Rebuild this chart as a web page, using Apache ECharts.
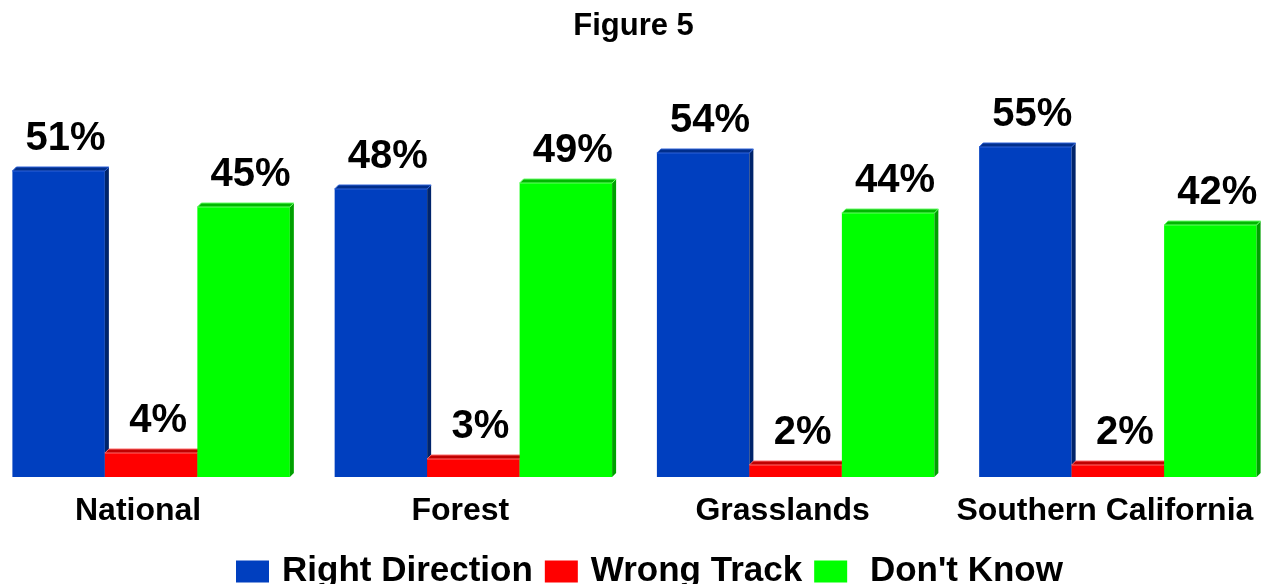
<!DOCTYPE html>
<html>
<head>
<meta charset="utf-8">
<script src="https://cdn.jsdelivr.net/npm/echarts@6/dist/echarts.min.js"></script>
<style>
  html, body { margin: 0; padding: 0; background: #fff; }
  #chart { width: 1267px; height: 584px; }
</style>
</head>
<body>
<div id="chart"></div>
<script>
// data
var categories = ['National', 'Forest', 'Grasslands', 'Southern California'];
var rightDirection = [51, 48, 54, 55];
var wrongTrack = [4, 3, 2, 2];
var dontKnow = [45, 49, 44, 42];

var FONT = '"Liberation Sans", Arial, sans-serif';

function toPairs(values) {
    return values.map(function (v, i) { return [i, v]; });
}

// рисуем псевдо-3D столбик: лицевая грань, верх и правый бок
function makeRender(slot, front, topColor, edge, side) {
    return function (params, api) {
        var base = api.coord([api.value(0), 0]);
        var pt = api.coord([api.value(0), api.value(1)]);
        var band = api.size([1, 0])[0];
        var w = band * 0.287;
        var x0 = base[0] + (slot - 1.5) * w;
        var x1 = x0 + w;
        var y0 = pt[1];
        var y1 = base[1];
        var d = 4;
        return {
            type: 'group',
            children: [
                {
                    type: 'rect',
                    shape: { x: x0, y: y0, width: w, height: y1 - y0 },
                    style: { fill: front }
                },
                {
                    type: 'polygon',
                    shape: { points: [[x1, y0], [x1 + d, y0 - d], [x1 + d, y1 - d], [x1, y1]] },
                    style: { fill: side }
                },
                {
                    type: 'polygon',
                    shape: { points: [[x0, y0], [x0 + d, y0 - d], [x1 + d, y0 - d], [x1, y0]] },
                    style: { fill: topColor, stroke: edge, lineWidth: 1 }
                },
                {
                    type: 'text',
                    x: (x0 + x1) / 2 + 7,
                    y: y0 - 12,
                    style: {
                        text: api.value(1) + '%',
                        fontFamily: FONT,
                        fontSize: 40,
                        fontWeight: 'bold',
                        fill: '#000',
                        align: 'center',
                        verticalAlign: 'bottom'
                    }
                }
            ]
        };
    };
}

var chart = echarts.init(document.getElementById('chart'));

var option = {
    animation: false,
    title: {
        text: 'Figure 5',
        left: 'center',
        top: 6,
        textStyle: { fontFamily: FONT, fontSize: 31, fontWeight: 'bold', color: '#000' }
    },
    legend: {
        left: 231,
        top: 549,
        icon: 'rect',
        itemWidth: 33,
        itemHeight: 22,
        itemGap: 12,
        formatter: function (name) {
            return name === "Don't Know" ? ' ' + name : name;
        },
        textStyle: {
            fontFamily: FONT,
            fontSize: 35,
            fontWeight: 'bold',
            color: '#000',
            padding: [0, 0, 0, 8]
        },
        data: ['Right Direction', 'Wrong Track', "Don't Know"]
    },
    grid: {
        left: -10,
        right: -12,
        top: 117,
        bottom: 107,
        outerBoundsMode: 'none'
    },
    xAxis: {
        type: 'category',
        data: categories,
        axisLine: { show: false },
        axisTick: { show: false },
        axisLabel: {
            margin: 18,
            interval: 0,
            fontFamily: FONT,
            fontSize: 32,
            fontWeight: 'bold',
            color: '#000',
            padding: [0, 26, 0, 0]
        }
    },
    yAxis: {
        type: 'value',
        min: 0,
        max: 60,
        show: false,
        splitLine: { show: false }
    },
    series: [
        {
            name: 'Right Direction',
            type: 'custom',
            itemStyle: { color: '#003fbf' },
            renderItem: makeRender(0, '#003fbf', '#002e8c', '#2f63d8', '#00246b'),
            encode: { x: 0, y: 1 },
            data: toPairs(rightDirection)
        },
        {
            name: 'Wrong Track',
            type: 'custom',
            itemStyle: { color: '#ff0000' },
            renderItem: makeRender(1, '#ff0000', '#c00000', '#ff6a6a', '#b00000'),
            encode: { x: 0, y: 1 },
            data: toPairs(wrongTrack)
        },
        {
            name: "Don't Know",
            type: 'custom',
            itemStyle: { color: '#00ff00' },
            renderItem: makeRender(2, '#00ff00', '#00b800', '#66ff66', '#00a000'),
            encode: { x: 0, y: 1 },
            data: toPairs(dontKnow)
        }
    ]
};

chart.setOption(option);
</script>
</body>
</html>
